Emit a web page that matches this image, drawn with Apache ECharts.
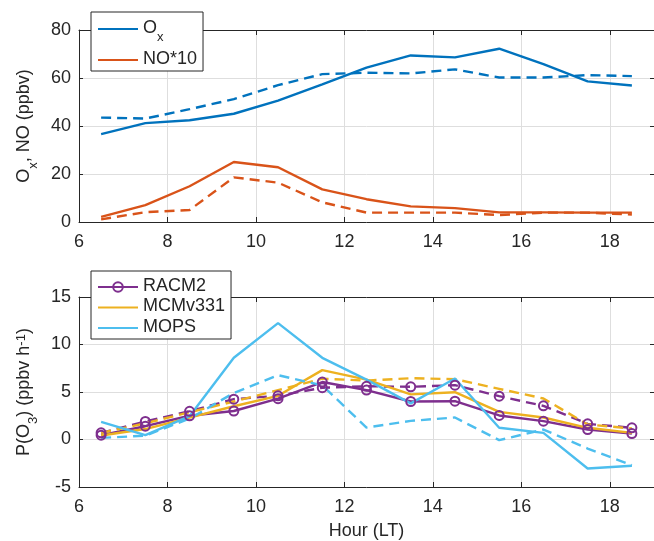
<!DOCTYPE html>
<html><head><meta charset="utf-8">
<script src="https://cdn.jsdelivr.net/npm/echarts@6/dist/echarts.min.js"></script>
<style>html,body{margin:0;padding:0;background:#fff}#c{width:654px;height:541px}</style>
</head><body><div id="c"></div>
<script>
// ---- data ----
const hours = [6.5, 7.5, 8.5, 9.5, 10.5, 11.5, 12.5, 13.5, 14.5, 15.5, 16.5, 17.5, 18.5];
const xTicks = [6, 8, 10, 12, 14, 16, 18];
const topYTicks = [0, 20, 40, 60, 80];
const botYTicks = [-5, 0, 5, 10, 15];

const oxSolid   = [36.6, 41.2, 42.4, 45.1, 50.6, 57.3, 64.3, 69.4, 68.6, 72.2, 65.8, 58.6, 56.9];
const oxDashed  = [43.5, 43.1, 47.0, 51.2, 57.0, 61.6, 62.2, 61.9, 63.6, 60.2, 60.2, 61.2, 60.8];
const noSolid   = [2.1, 7.0, 14.9, 25.0, 22.8, 13.6, 9.5, 6.5, 5.8, 4.0, 4.0, 3.9, 3.9];
const noDashed  = [1.1, 4.1, 5.0, 18.6, 16.4, 8.2, 3.9, 3.9, 3.9, 2.9, 3.9, 3.9, 3.1];

const racmSolid  = [0.45, 1.4, 2.5, 3.0, 4.3, 6.05, 5.2, 4.0, 4.03, 2.53, 1.93, 1.05, 0.63];
const racmDashed = [0.7, 1.9, 2.97, 4.25, 4.6, 5.45, 5.6, 5.55, 5.72, 4.56, 3.54, 1.65, 1.23];
const mcmSolid   = [0.42, 1.1, 2.3, 3.5, 4.6, 7.3, 6.3, 4.75, 4.98, 2.91, 2.32, 1.23, 0.7];
const mcmDashed  = [0.7, 1.7, 2.87, 4.0, 5.2, 6.4, 6.2, 6.45, 6.35, 5.33, 4.32, 1.58, 1.16];
const mopsSolid  = [1.85, 0.45, 2.45, 8.6, 12.25, 8.6, 6.3, 3.8, 6.42, 1.23, 0.7, -3.05, -2.77];
const mopsDashed = [0.17, 0.4, 2.2, 4.9, 6.77, 5.7, 1.26, 1.96, 2.32, -0.07, 1.05, -0.95, -2.7];

// ---- chart ----
const FONT = 'Liberation Sans, Arial, Helvetica, sans-serif';
const TXT = '#262626';
const GRIDC = '#dedede';
const C = {ox:'#0072BD', no:'#D95319', racm:'#7E2F8E', mcm:'#EDB120', mops:'#4DBEEE'};
const DASH = [10, 6];
const LW = 2.4;

const rich = {
  m:   {fontSize:18, lineHeight:20, verticalAlign:'top', color:TXT, fontFamily:FONT},
  sub: {fontSize:13, lineHeight:13, verticalAlign:'top', padding:[12,0,0,0], color:TXT, fontFamily:FONT},
  sup: {fontSize:13, lineHeight:13, verticalAlign:'top', color:TXT, fontFamily:FONT}
};

const pairs = arr => hours.map((h, i) => [h, arr[i]]);

function xAx(grid, pos, withLabels, name) {
  return {
    gridIndex: grid, type:'value', position: pos,
    min: xTicks[0], max: 19, interval: xTicks[1] - xTicks[0],
    axisLine: {show:true, onZero:false, lineStyle:{color:TXT, width:1}},
    axisTick: {show:true, inside:true, length:5, lineStyle:{color:TXT, width:1}},
    axisLabel: {show:withLabels, fontSize:18, color:TXT, margin:11, fontFamily:FONT, showMaxLabel:false},
    splitLine: {show:withLabels, lineStyle:{color:GRIDC, width:1}},
    name: name || '', nameLocation:'middle', nameGap:35,
    nameTextStyle:{fontSize:18, color:TXT, fontFamily:FONT}
  };
}
function yAx(grid, pos, ticks, withLabels, name) {
  return {
    gridIndex: grid, type:'value', position: pos,
    min: ticks[0], max: ticks[ticks.length-1], interval: ticks[1]-ticks[0],
    axisLine: {show:true, onZero:false, lineStyle:{color:TXT, width:1}},
    axisTick: {show:true, inside:true, length:4, lineStyle:{color:TXT, width:1}},
    axisLabel: {show:withLabels, fontSize:18, color:TXT, margin:8, fontFamily:FONT},
    splitLine: {show:withLabels, lineStyle:{color:GRIDC, width:1}},
    name: name || '', nameLocation:'middle', nameGap:40,
    nameTextStyle:{rich: rich}
  };
}

function line(name, data, color, xi, yi, dashed, marker) {
  return {
    name, type:'line', data: pairs(data), xAxisIndex: xi, yAxisIndex: yi,
    symbol: marker ? 'circle' : 'none', symbolSize: 9, showSymbol: !!marker,
    color: color,
    lineStyle: {color, width:LW, type: dashed ? DASH : 'solid'},
    itemStyle: {color: marker ? 'rgba(255,255,255,0)' : color, borderColor: color, borderWidth: 2},
    emphasis: {disabled:true}, silent:true, animation:false, clip:false, z: 2
  };
}

const noMark = {color:'rgba(0,0,0,0)', borderColor:'rgba(0,0,0,0)', borderWidth:0, opacity:0};

const legendBase = {
  orient:'vertical', left:91, itemWidth:40, itemHeight:12,
  backgroundColor:'#fff', borderColor:TXT, borderWidth:1, borderRadius:0,
  textStyle:{rich: rich}, selectedMode:false
};

const option = {
  animation:false,
  grid: [
    {left:79, right:-4, top:30, height:192},
    {left:79, right:-4, top:297, height:190}
  ],
  xAxis: [
    xAx(0, 'bottom', true), xAx(0, 'top', false),
    xAx(1, 'bottom', true, 'Hour (LT)'), xAx(1, 'top', false)
  ],
  yAxis: [
    yAx(0, 'left', topYTicks, true, '{m|O}{sub|x}{m|, NO (ppbv)}'), yAx(0, 'right', topYTicks, false),
    yAx(1, 'left', botYTicks, true, '{m|P(O}{sub|3}{m|) (ppbv h}{sup|-1}{m|)}'), yAx(1, 'right', botYTicks, false)
  ],
  legend: [
    Object.assign({}, legendBase, {
      data:[{name:'Ox', itemStyle:noMark}, {name:'NO*10', itemStyle:noMark}],
      top:12, padding:[7,6,3,6], itemGap:6,
      formatter: n => n === 'Ox' ? '{m|O}{sub|x}' : '{m|' + n + '}'
    }),
    Object.assign({}, legendBase, {
      data:[{name:'RACM2'}, {name:'MCMv331', itemStyle:noMark}, {name:'MOPS', itemStyle:noMark}],
      top:271, padding:[6,6,3,6], itemGap:2.5,
      formatter: n => '{m|' + n + '}'
    })
  ],
  series: [
    line('Ox', oxSolid, C.ox, 0, 0, false),
    line('Ox dashed', oxDashed, C.ox, 0, 0, true),
    line('NO*10', noSolid, C.no, 0, 0, false),
    line('NO*10 dashed', noDashed, C.no, 0, 0, true),
    line('RACM2', racmSolid, C.racm, 2, 2, false, true),
    line('RACM2 dashed', racmDashed, C.racm, 2, 2, true, true),
    line('MCMv331', mcmSolid, C.mcm, 2, 2, false),
    line('MCMv331 dashed', mcmDashed, C.mcm, 2, 2, true),
    line('MOPS', mopsSolid, C.mops, 2, 2, false),
    line('MOPS dashed', mopsDashed, C.mops, 2, 2, true)
  ]
};
const chart = echarts.init(document.getElementById('c'), null, {renderer:'canvas'});
chart.setOption(option);
</script>
</body></html>
